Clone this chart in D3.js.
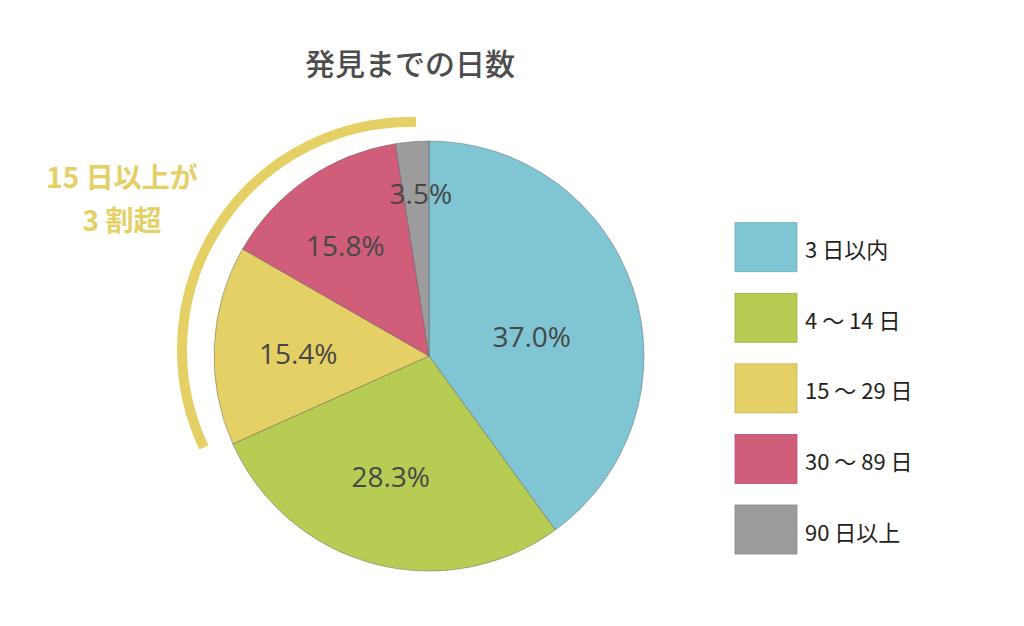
<!DOCTYPE html>
<html>
<head>
<meta charset="utf-8">
<script src="https://cdn.jsdelivr.net/npm/d3@7"></script>
<style>
  html, body { margin: 0; padding: 0; background: #ffffff; }
  svg { display: block; }
</style>
</head>
<body>
<svg id="chart" width="1024" height="626"></svg>
<script>
// ---- data ----
const categories = ["3 日以内", "4 ～ 14 日", "15 ～ 29 日", "30 ～ 89 日", "90 日以上"];
// slice shares as drawn in the picture (measured from the slice angles)
const sliceShares = [40.0, 28.3, 15.0, 14.2, 2.5];
// printed labels
const valueLabels = ["37.0%", "28.3%", "15.4%", "15.8%", "3.5%"];
const colors = ["#7fc5d4", "#b7cc52", "#e5d066", "#d05e7b", "#9c9c9c"];
const titleText = "発見までの日数";
const noteLines = ["15 日以上が", "3 割超"];

// ---- layout ----
const svg = d3.select("#chart");
const cx = 429, cy = 356, R = 215;
const labelNudge = [[-20, 20], [-5, -4.5], [-2, 3.5], [-10.5, -4.5], [2, -34]];

svg.append("text")
  .attr("x", 410).attr("y", 62)
  .attr("text-anchor", "middle").attr("dominant-baseline", "central")
  .attr("font-family", "'Noto Sans CJK JP', 'Noto Sans', sans-serif")
  .attr("font-size", 30).attr("font-weight", 500)
  .attr("fill", "#4d4d4d")
  .text(titleText);

const pie = d3.pie().sort(null).value(d => d);
const arcs = pie(sliceShares);
const arc = d3.arc().innerRadius(0).outerRadius(R);
const labelArc = d3.arc().innerRadius(R * 0.6).outerRadius(R * 0.6);

const g = svg.append("g").attr("transform", `translate(${cx},${cy})`);
g.selectAll("path.slice").data(arcs).join("path")
  .attr("class", "slice")
  .attr("d", arc)
  .attr("fill", (d, i) => colors[i])
  .attr("stroke", "rgba(90,90,90,0.55)")
  .attr("stroke-width", 0.8);

g.selectAll("text.val").data(arcs).join("text")
  .attr("class", "val")
  .attr("transform", (d, i) => {
    const c = labelArc.centroid(d);
    return `translate(${c[0] + labelNudge[i][0]},${c[1] + labelNudge[i][1]})`;
  })
  .attr("text-anchor", "middle").attr("dominant-baseline", "central")
  .attr("font-family", "'Open Sans', 'Noto Sans', sans-serif")
  .attr("font-size", 28).attr("font-weight", 500)
  .attr("fill", "#474747")
  .text((d, i) => valueLabels[i]);

// ---- annotation arc ----
const noteArc = d3.arc()
  .innerRadius(228).outerRadius(228)
  .startAngle(-115.3 * Math.PI / 180)
  .endAngle(1.5 * Math.PI / 180);
svg.append("path")
  .attr("transform", "translate(410,350)")
  .attr("d", noteArc())
  .attr("fill", "none")
  .attr("stroke", "#e5d066")
  .attr("stroke-width", 10)
  .attr("stroke-linecap", "round");

svg.selectAll("text.note").data(noteLines).join("text")
  .attr("class", "note")
  .attr("x", 122)
  .attr("y", (d, i) => 176 + i * 43)
  .attr("text-anchor", "middle").attr("dominant-baseline", "central")
  .attr("font-family", "'Noto Sans CJK JP', sans-serif")
  .attr("font-size", 28).attr("font-weight", 700)
  .attr("fill", "#e5d066")
  .text(d => d);

// ---- legend ----
const ly = d3.scalePoint().domain(categories).range([222.7, 505]);
const leg = svg.append("g");
const rows = leg.selectAll("g").data(categories).join("g")
  .attr("transform", d => `translate(735,${ly(d)})`);
rows.append("rect")
  .attr("width", 62).attr("height", 49)
  .attr("fill", (d, i) => colors[i])
  .attr("stroke", (d, i) => d3.color(colors[i]).darker(0.4))
  .attr("stroke-width", 0.8);
rows.append("text")
  .attr("x", 70).attr("y", 25.5)
  .attr("dominant-baseline", "central")
  .attr("font-family", "'Noto Sans CJK JP', sans-serif")
  .attr("font-size", 22)
  .attr("fill", "#231f20")
  .text(d => d);
</script>
</body>
</html>
